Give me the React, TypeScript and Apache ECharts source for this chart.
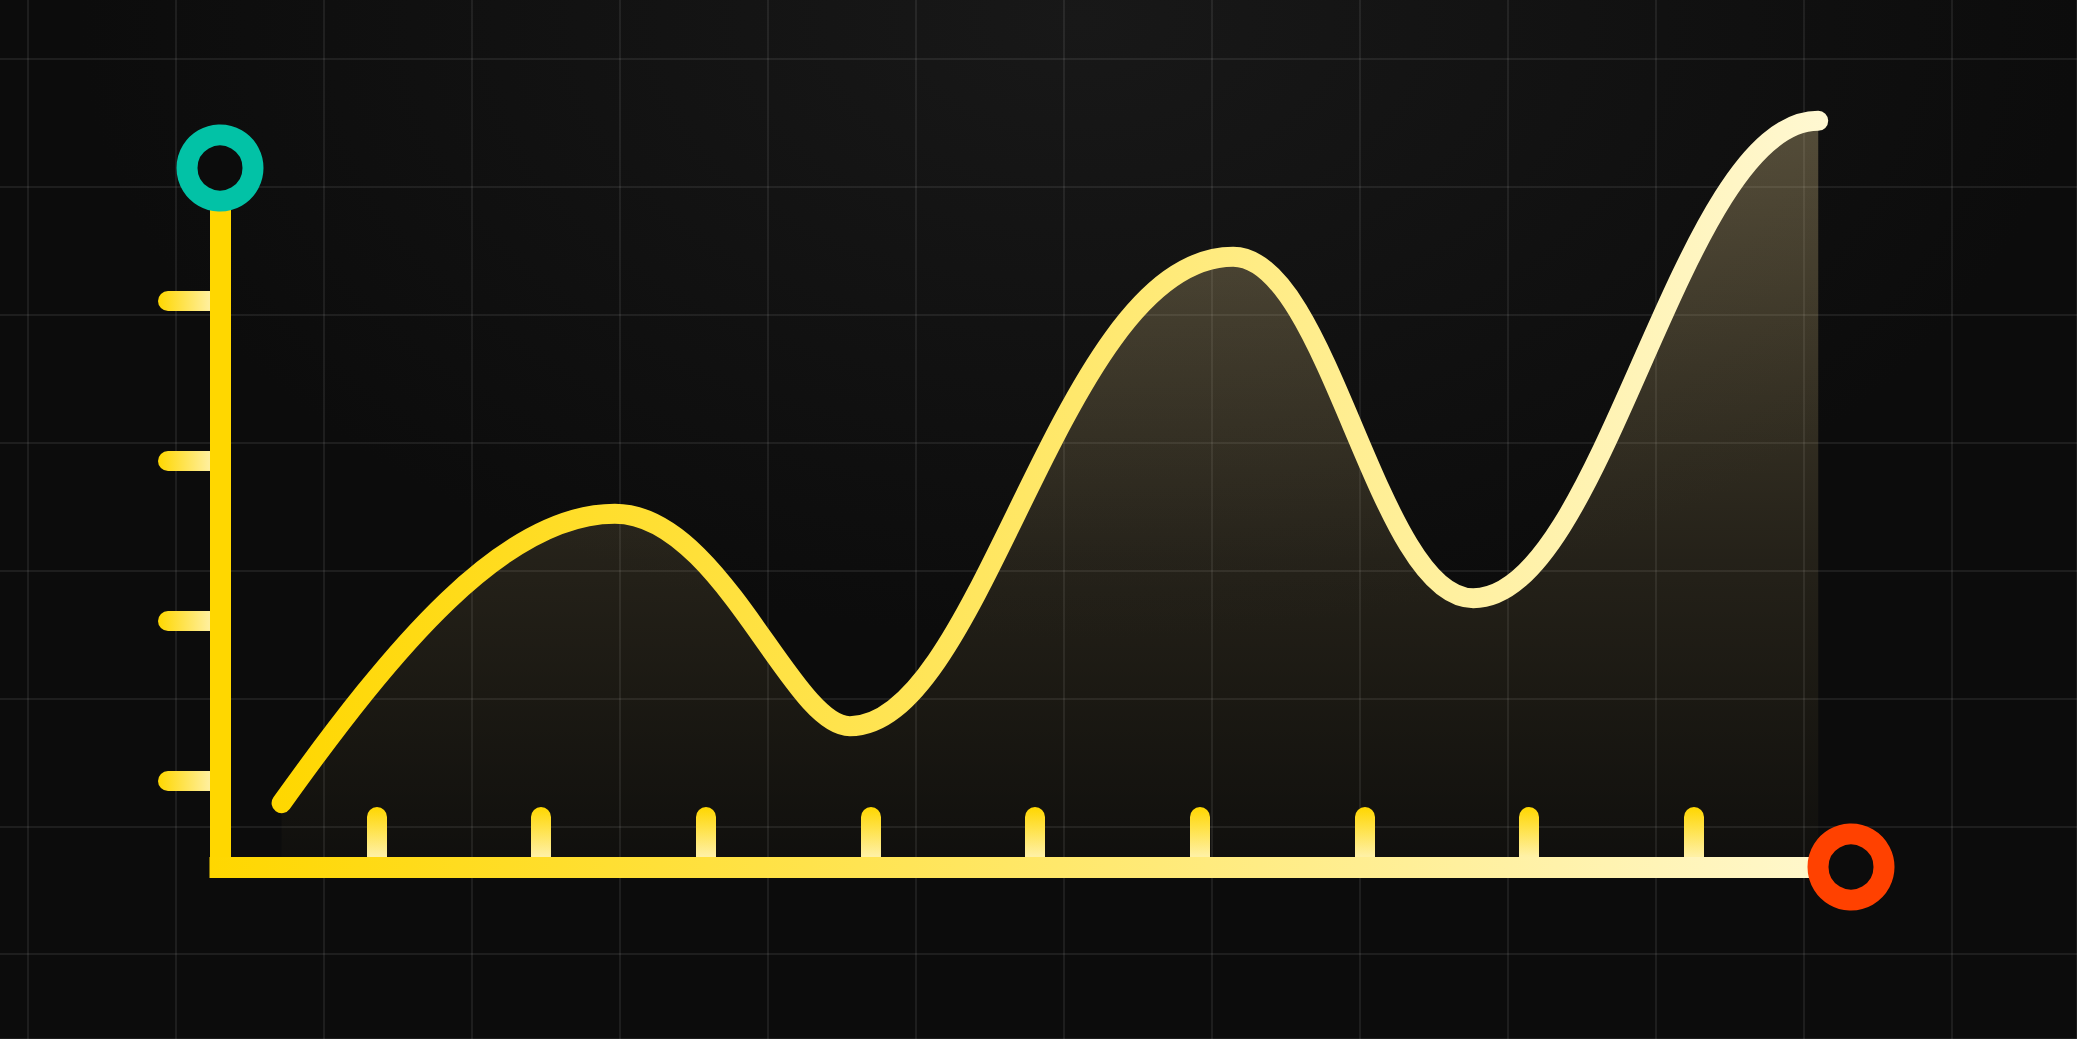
import React, { useEffect, useRef } from "react";
import * as echarts from "echarts";

// Axis extents (abstract units)
const X_MIN = 0.05;
const X_MAX = 9.955;
const Y_MIN = 0.46;
const Y_MAX = 4.83;

// Tick values
const xTicks = [1, 2, 3, 4, 5, 6, 7, 8, 9];
const yTicks = [1, 2, 3, 4];

// Background grid (cells)
const GRID_COLS = 14.845;
const GRID_ROWS = 8.663;

// Curve knots: start, peak, trough, peak, trough, end
const curveX = [0.424, 2.448, 3.875, 6.203, 7.661, 9.756];
const curveY = [0.859, 2.669, 1.34, 4.275, 2.14, 5.125];
// slope of the curve where it starts (value units)
const startSlope = 1.44;

// Curve styling: bezier handle lengths as a share of each segment's width
const handleOut = [1 / 3, 0.45, 0.35, 0.4, 0.38];
const handleIn = [1 / 3, 0.25, 0.45, 0.4, 0.4];

function curvePath(pts: number[][], startDir: number[]): string {
  let d = `M${pts[0][0]},${pts[0][1]}`;
  for (let i = 0; i < pts.length - 1; i++) {
    const p0 = pts[i];
    const p1 = pts[i + 1];
    const h = p1[0] - p0[0];
    const a = h * handleOut[i];
    const b = h * handleIn[i];
    const c1x = p0[0] + a;
    const c1y = i === 0 ? p0[1] + a * (startDir[1] / startDir[0]) : p0[1];
    const c2x = p1[0] - b;
    const c2y = p1[1];
    d += ` C${c1x},${c1y} ${c2x},${c2y} ${p1[0]},${p1[1]}`;
  }
  return d;
}

export default function App() {
  const ref = useRef<HTMLDivElement>(null);

  useEffect(() => {
    if (!ref.current) return;
    const chart = echarts.init(ref.current, null, { renderer: "svg" });
    const LG = echarts.graphic.LinearGradient;

    const xTickGrad = new LG(0, 808, 0, 856, [
      { offset: 0, color: "#FFD700" },
      { offset: 1, color: "#FFF1A6" },
    ], true);
    const yTickGrad = new LG(158, 0, 209, 0, [
      { offset: 0, color: "#FFD700" },
      { offset: 1, color: "#FFEF9C" },
    ], true);
    const xAxisGrad = new LG(209, 0, 1808, 0, [
      { offset: 0, color: "#FFD700" },
      { offset: 1, color: "#FFF7CA" },
    ], true);
    const curveGrad = new LG(272, 0, 1828, 0, [
      { offset: 0, color: "#FFD700" },
      { offset: 1, color: "#FFF8D2" },
    ], true);
    const areaGrad = new LG(0, 120, 0, 867, [
      { offset: 0, color: "rgba(255,228,160,0.29)" },
      { offset: 0.59, color: "rgba(255,222,140,0.10)" },
      { offset: 1, color: "rgba(255,215,100,0.015)" },
    ], true);

    const hidden = {
      axisLine: { show: false, onZero: false },
      axisTick: { show: false },
      axisLabel: { show: false },
      splitLine: { show: false },
    };
    const gridLine = { show: true, lineStyle: { color: "rgba(255,255,255,0.075)", width: 2 } };

    const curveData = curveX.map((x, i) => [x, curveY[i]]);

    chart.setOption({
      animation: false,
      backgroundColor: "transparent",
      grid: [
        { left: 220, right: 226, top: 168, bottom: 172, outerBoundsMode: "none", containLabel: false },
        { left: -120, right: 0, top: -69, bottom: 0, outerBoundsMode: "none", containLabel: false },
      ],
      xAxis: [
        {
          ...hidden,
          gridIndex: 0, type: "value", min: X_MIN, max: X_MAX, position: "bottom", z: 1,
          axisTick: {
            show: true, customValues: xTicks, inside: true, length: 50,
            lineStyle: { width: 20, cap: "round", color: xTickGrad },
          },
        },
        {
          ...hidden,
          gridIndex: 0, type: "value", min: X_MIN, max: X_MAX, position: "bottom", z: 3,
          axisLine: { show: true, onZero: false, lineStyle: { width: 21, cap: "square", color: xAxisGrad } },
        },
        {
          ...hidden,
          gridIndex: 1, type: "value", min: 0, max: GRID_COLS, interval: 1, position: "bottom", z: 0,
          splitLine: gridLine,
        },
      ],
      yAxis: [
        {
          ...hidden,
          gridIndex: 0, type: "value", min: Y_MIN, max: Y_MAX, position: "left", z: 1,
          axisTick: {
            show: true, customValues: yTicks, inside: false, length: 52,
            lineStyle: { width: 20, cap: "round", color: yTickGrad },
          },
        },
        {
          ...hidden,
          gridIndex: 0, type: "value", min: Y_MIN, max: Y_MAX, position: "left", z: 3,
          axisLine: { show: true, onZero: false, lineStyle: { width: 21, cap: "square", color: "#FFD700" } },
        },
        {
          ...hidden,
          gridIndex: 1, type: "value", min: 0, max: GRID_ROWS, interval: 1, inverse: true, position: "left", z: 0,
          splitLine: gridLine,
        },
      ],
      series: [
        {
          type: "custom",
          xAxisIndex: 0,
          yAxisIndex: 0,
          data: curveData,
          encode: { x: 0, y: 1 },
          clip: false,
          silent: true,
          z: 2,
          renderItem: (params: any, api: any) => {
            if (params.dataIndex !== 0) return null;
            const pts = curveData.map((p) => api.coord(p));
            const dirEnd = api.coord([curveData[0][0] + 1, curveData[0][1] + startSlope]);
            const startDir = [dirEnd[0] - pts[0][0], dirEnd[1] - pts[0][1]];
            const base = api.coord([X_MIN, Y_MIN])[1];
            const d = curvePath(pts, startDir);
            const last = pts[pts.length - 1];
            const areaD = `${d} L${last[0]},${base} L${pts[0][0]},${base} Z`;
            return {
              type: "group",
              children: [
                { type: "path", shape: { pathData: areaD }, style: { fill: areaGrad, stroke: "none" } },
                {
                  type: "path",
                  shape: { pathData: d },
                  style: { fill: "none", stroke: curveGrad, lineWidth: 20, lineCap: "round", lineJoin: "round" },
                },
              ],
            };
          },
        },
        {
          type: "scatter",
          xAxisIndex: 0,
          yAxisIndex: 0,
          clip: false,
          silent: true,
          z: 5,
          symbol: "circle",
          symbolSize: 66,
          itemStyle: { opacity: 1 },
          data: [
            { value: [X_MIN, Y_MAX], itemStyle: { color: "#0c0c0c", borderColor: "#02C2A6", borderWidth: 21, opacity: 1 } },
            { value: [X_MAX, Y_MIN], itemStyle: { color: "#0c0c0c", borderColor: "#FF4100", borderWidth: 21, opacity: 1 } },
          ],
        },
      ],
    });

    return () => chart.dispose();
  }, []);

  return (
    <div
      ref={ref}
      style={{
        position: "fixed",
        left: 0,
        top: 0,
        width: "2077px",
        height: "1039px",
        background:
          "radial-gradient(ellipse 1000px 620px at 1080px 20px, #181818 0%, #121212 50%, #0c0c0c 100%)",
      }}
    />
  );
}
